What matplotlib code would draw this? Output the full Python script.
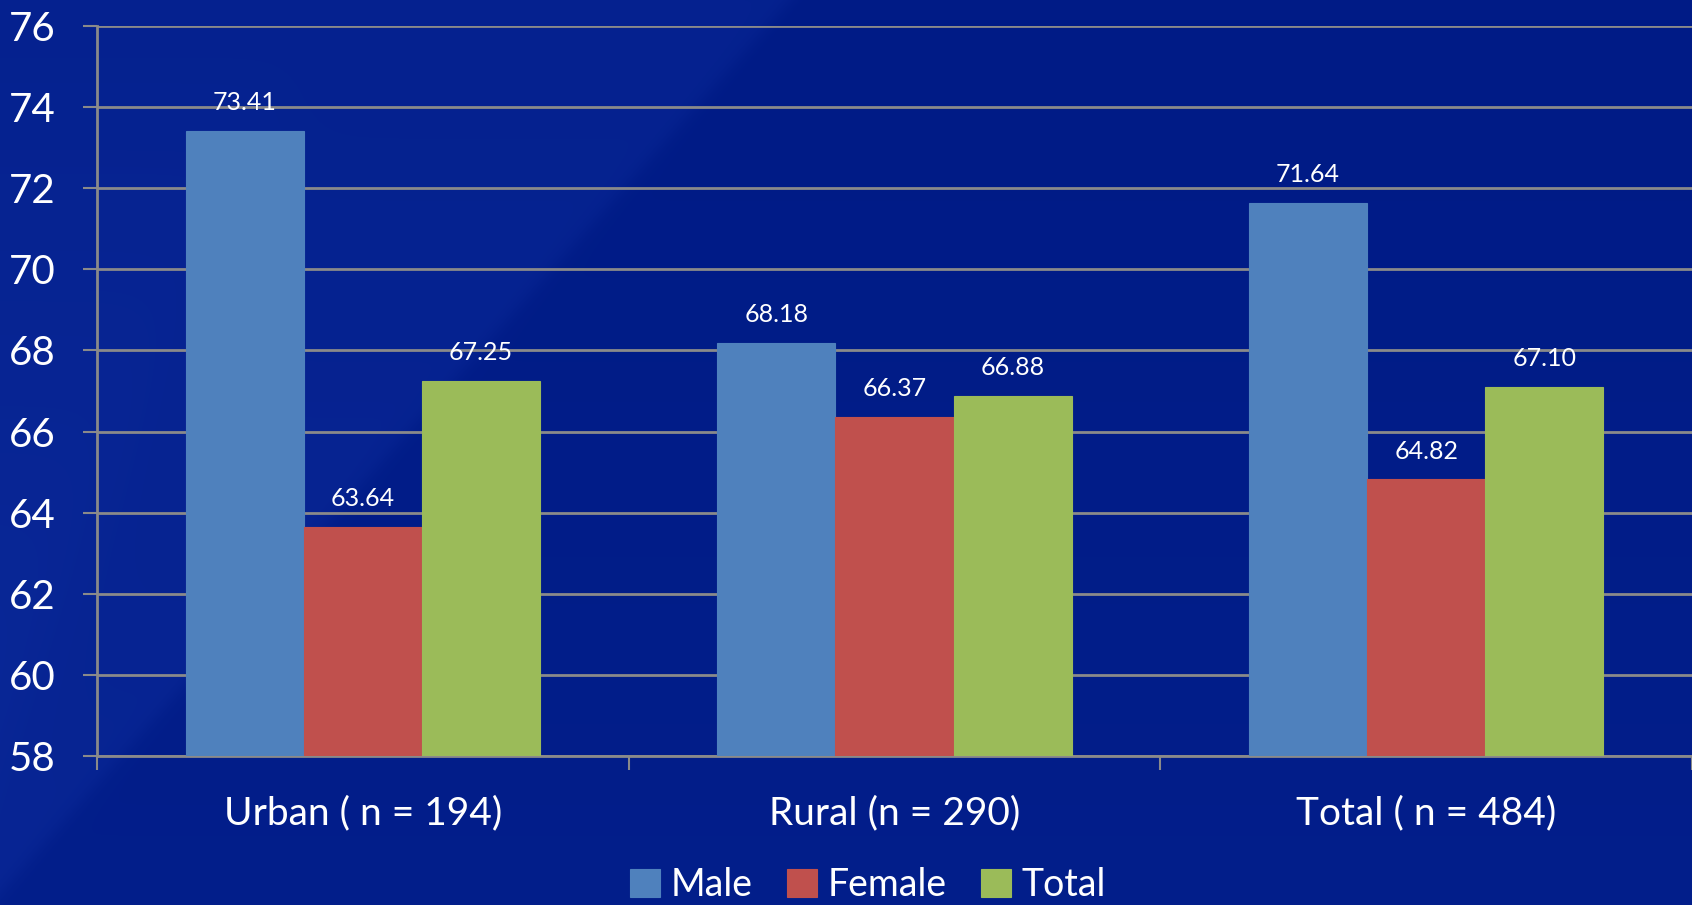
import numpy as np
import matplotlib.pyplot as plt

# Mean values by setting and sex
categories = ['Urban ( n = 194)', 'Rural (n = 290)', 'Total ( n = 484)']
series = ['Male', 'Female', 'Total']
male = [73.41, 68.18, 71.64]
female = [63.64, 66.37, 64.82]
total = [67.25, 66.88, 67.10]
yticks = [58, 60, 62, 64, 66, 68, 70, 72, 74, 76]

colors = ['#4F81BD', '#C0504D', '#9BBB59']
values = [male, female, total]

plt.rcParams['font.family'] = ['Lato', 'DejaVu Sans']

W, H = 1692, 905
fig = plt.figure(figsize=(W / 100, H / 100), dpi=100)

# dark blue slide background with soft diagonal light bands
yy, xx = np.mgrid[0:H, 0:W].astype(float)
base = np.array([0, 27, 134]) / 255.0
light = np.array([10, 40, 152]) / 255.0
d1 = (790 - 0.885 * yy) - xx          # main band edge
band1 = 1 / (1 + np.exp(-d1 / 6.0))
d2 = (330 - 0.45 * yy) - xx           # inner streak near left edge
band2 = 1 / (1 + np.exp(-d2 / 20.0))
vert = yy / H
mix = 0.5 * band1 + 0.35 * band2 * vert + 0.25 * vert
mix = np.clip(mix, 0, 1)[..., None]
bg = base * (1 - mix) + light * mix
bgax = fig.add_axes([0, 0, 1, 1], zorder=-5)
bgax.imshow(bg, aspect='auto', extent=[0, 1, 0, 1], origin='upper')
bgax.axis('off')

ax = fig.add_axes([97 / W, 1 - 756 / H, 1 - 97 / W, (756 - 26) / H])
ax.set_facecolor('none')

x = np.arange(len(categories))
bw = 1 / 4.5
for i, (name, vals) in enumerate(zip(series, values)):
    pos = x + (i - 1) * bw
    ax.bar(pos, [v - 58 for v in vals], bw, bottom=58, color=colors[i],
           label=name, zorder=3, edgecolor=colors[i], linewidth=0.8)
    for px, v in zip(pos, vals):
        ax.annotate(f'{v:.2f}', (px, v), xytext=(0, 15), textcoords='offset points',
                    ha='center', va='baseline', color='white', fontsize=18)

ax.set_ylim(58, 76)
ax.set_xlim(-0.5, 2.5)
ax.set_yticks(yticks)
ax.yaxis.grid(True, color='#8a8a8a', linewidth=2, zorder=0)
ax.set_axisbelow(True)

ax.set_xticks(x)
ax.set_xticklabels(categories)
ax.set_xticks([-0.5, 0.5, 1.5, 2.5], minor=True)
ax.tick_params(axis='x', which='major', length=0, pad=28, labelsize=28, labelcolor='white')
ax.tick_params(axis='x', which='minor', length=10, width=1.5, color='#8a8a8a')
ax.tick_params(axis='y', length=10, width=1.5, color='#8a8a8a', pad=20,
               labelsize=29, labelcolor='white')

for s in ['top', 'right']:
    ax.spines[s].set_visible(False)
for s in ['left', 'bottom']:
    ax.spines[s].set_color('#8a8a8a')
    ax.spines[s].set_linewidth(2)

fig.legend(loc='center', bbox_to_anchor=(868 / W, 1 - 885 / H), ncol=3, frameon=False,
           fontsize=27, labelcolor='white', handlelength=0.8, handleheight=0.8,
           handletextpad=0.3, columnspacing=0.9)

fig.savefig('out.png', dpi=100)
